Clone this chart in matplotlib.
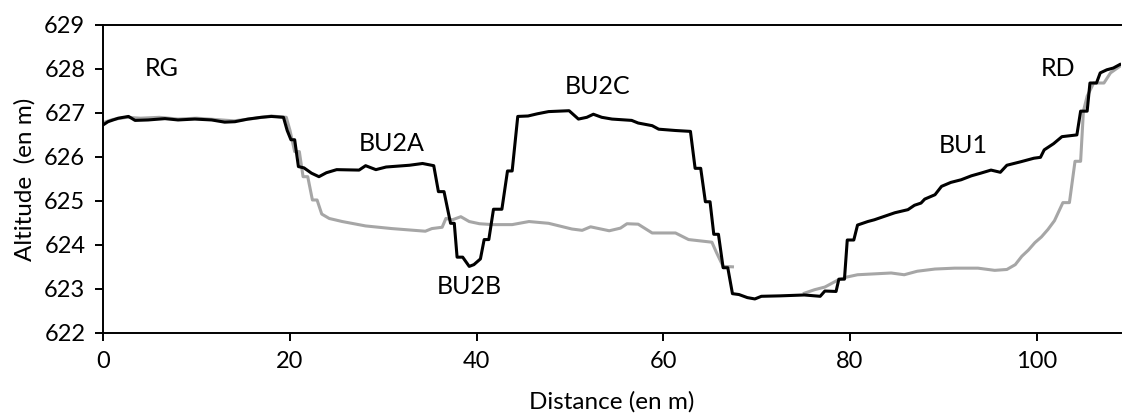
import matplotlib
matplotlib.use("Agg")
import matplotlib.pyplot as plt
import numpy as np

# profile 1 (black)
black_x = [0.0, 0.5, 1.6, 2.7, 3.4, 4.8, 6.6, 8.0, 9.8, 11.6, 13.0, 14.1, 15.5, 16.9, 18.0, 19.3,
           19.7, 20.1, 20.5, 20.9, 21.5, 22.3, 23.1, 23.9, 25.0, 27.4, 28.1, 29.2, 30.3, 32.8, 34.2,
           35.4, 35.9, 36.5, 37.2, 37.6, 37.9, 38.5, 39.2, 39.7, 40.4, 40.8, 41.3, 41.8, 42.7, 43.3,
           43.8, 44.4, 45.5, 46.5, 47.7, 49.9, 50.9, 51.8, 52.5, 53.4, 54.5, 56.6, 57.3, 58.8, 59.5,
           61.3, 62.9, 63.4, 64.0, 64.5, 65.0, 65.4, 65.9, 66.4, 66.9, 67.4, 68.1, 69.0, 69.8, 70.5,
           72.5, 75.1, 76.8, 77.3, 78.5, 78.8, 79.4, 79.7, 80.4, 80.8, 81.9, 82.6, 83.7, 84.8, 86.2,
           86.9, 87.6, 88.0, 89.1, 89.8, 90.8, 91.9, 93.0, 94.0, 95.1, 96.1, 96.8, 98.3, 99.7, 100.4,
           100.8, 101.8, 102.7, 104.3, 104.7, 105.4, 105.7, 106.4, 106.8, 107.5, 108.2, 108.9]
black_y = [626.73, 626.80, 626.88, 626.92, 626.83, 626.84, 626.87, 626.84, 626.86, 626.84, 626.79,
           626.80, 626.86, 626.90, 626.92, 626.90, 626.60, 626.39, 626.39, 625.78, 625.75, 625.63,
           625.55, 625.64, 625.71, 625.70, 625.80, 625.71, 625.77, 625.81, 625.85, 625.80, 625.21,
           625.21, 624.49, 624.49, 623.72, 623.72, 623.51, 623.55, 623.68, 624.12, 624.12, 624.81,
           624.81, 625.68, 625.68, 626.92, 626.93, 626.98, 627.03, 627.05, 626.86, 626.90, 626.97,
           626.90, 626.86, 626.83, 626.77, 626.71, 626.63, 626.60, 626.58, 625.74, 625.74, 624.98,
           624.98, 624.24, 624.24, 623.48, 623.48, 622.89, 622.87, 622.80, 622.77, 622.83, 622.84,
           622.86, 622.83, 622.95, 622.94, 623.22, 623.22, 624.11, 624.11, 624.45, 624.53, 624.57,
           624.65, 624.73, 624.80, 624.90, 624.95, 625.04, 625.14, 625.33, 625.42, 625.48, 625.57,
           625.63, 625.70, 625.65, 625.81, 625.89, 625.97, 625.99, 626.16, 626.30, 626.46, 626.50,
           627.04, 627.04, 627.68, 627.68, 627.91, 627.98, 628.02, 628.10]

# profile 2 (grey), gap between 67.4 and 75.1 m
grey_x = [0.0, 1.0, 2.5, 4.0, 6.0, 8.0, 10.0, 12.0, 14.0, 16.0, 18.0, 19.6, 20.0, 20.5, 21.0, 21.4,
          21.9, 22.4, 22.9, 23.4, 24.2, 25.6, 28.1, 30.9, 34.5, 35.2, 36.3, 36.7, 37.4, 38.3, 39.2,
          40.3, 41.7, 43.8, 45.6, 47.7, 50.2, 51.3, 52.2, 54.2, 55.4, 56.1, 57.3, 58.8, 61.3, 62.7,
          65.2, 65.7, 66.4, 67.4, 71.0, 75.1, 76.2, 77.3, 78.7, 79.7, 80.8, 82.6, 84.4, 85.8, 87.2,
          89.1, 91.2, 93.7, 95.5, 96.8, 97.7, 98.4, 99.1, 99.8, 100.5, 101.2, 101.9, 102.8, 103.5,
          104.1, 104.7, 105.0, 105.4, 106.1, 107.2, 107.9, 108.9]
grey_y = [626.78, 626.85, 626.90, 626.88, 626.90, 626.86, 626.88, 626.85, 626.82, 626.87, 626.93,
          626.90, 626.60, 626.12, 626.12, 625.55, 625.55, 625.02, 625.02, 624.70, 624.60, 624.53,
          624.43, 624.37, 624.31, 624.37, 624.40, 624.60, 624.57, 624.64, 624.53, 624.48, 624.46,
          624.46, 624.53, 624.49, 624.36, 624.33, 624.41, 624.32, 624.38, 624.48, 624.47, 624.27,
          624.27, 624.12, 624.06, 623.82, 623.51, 623.50, np.nan, 622.90, 622.98, 623.04, 623.20,
          623.27, 623.32, 623.34, 623.36, 623.32, 623.40, 623.45, 623.47, 623.47, 623.42, 623.44,
          623.55, 623.74, 623.88, 624.05, 624.18, 624.35, 624.55, 624.96, 624.96, 625.90, 625.90,
          627.04, 627.38, 627.68, 627.68, 627.91, 628.06]

labels = ["RG", "BU2A", "BU2B", "BU2C", "BU1", "RD"]
label_x = [6.2, 30.9, 39.2, 53.0, 92.1, 102.3]
label_y = [628.0, 626.3, 623.05, 627.6, 626.25, 628.0]

plt.rcParams["font.family"] = ["Lato", "DejaVu Sans"]

fig = plt.figure(figsize=(11.23, 4.16), dpi=100)
ax = fig.add_axes([0.092, 0.2, 0.906, 0.74])

ax.plot(grey_x, grey_y, color="#a6a6a6", lw=2.2, zorder=2)
ax.plot(black_x, black_y, color="black", lw=2.2, zorder=3)

for t, x, y in zip(labels, label_x, label_y):
    ax.text(x, y, t, fontsize=18, ha="center", va="center")

ax.set_xlim(0, 109)
ax.set_ylim(622, 629)
ax.set_xticks([0, 20, 40, 60, 80, 100])
ax.set_yticks(np.arange(622, 630, 1))
ax.tick_params(direction="out", length=6, width=1.4, labelsize=17, pad=7)
for s in ax.spines.values():
    s.set_linewidth(1.4)
ax.spines["right"].set_visible(False)

ax.set_xlabel("Distance (en m)", fontsize=17.5, labelpad=14)
ax.set_ylabel("Altitude  (en m)", fontsize=17.5, labelpad=6)

fig.savefig("out.png", dpi=100)
